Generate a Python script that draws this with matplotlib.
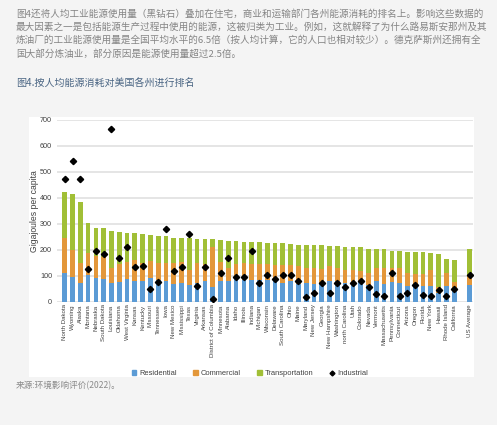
import matplotlib
matplotlib.use("Agg")
import matplotlib.pyplot as plt
from matplotlib.patches import Rectangle
from matplotlib.lines import Line2D
import numpy as np

# data (GJ per capita)
states = ["North Dakota", "Wyoming", "Alaska", "Montana", "Nebraska", "South Dakota",
          "Louisiana", "Oklahoma", "West Virginia", "Kansas", "Kentucky", "Missouri",
          "Tennessee", "Iowa", "New Mexico", "Mississippi", "Texas", "Virginia",
          "Arkansas", "District of Columbia", "Minnesota", "Alabama", "Idaho", "Illinois",
          "Indiana", "Michigan", "Wisconsin", "Delaware", "South Carolina", "Ohio",
          "Maine", "Maryland", "New Jersey", "Georgia", "New Hampshire", "Washington",
          "north Carolina", "Utah", "Colorado", "Nevada", "Vermont", "Massachusetts",
          "Pennsylvania", "Connecticut", "Arizona", "Oregon", "Florida", "New York",
          "Hawaii", "Rhode Island", "California", "US Average"]
residential = [109, 96, 71, 104, 92, 86, 71, 77, 87, 81, 80, 90, 83, 81, 70, 71, 63, 73,
               80, 58, 80, 80, 86, 84, 84, 84, 84, 80, 73, 80, 67, 73, 70, 70, 80, 80,
               73, 73, 76, 65, 80, 67, 76, 71, 61, 70, 61, 61, 35, 61, 48, 65]
commercial = [135, 103, 79, 85, 85, 85, 60, 68, 67, 80, 68, 68, 67, 69, 79, 81, 61, 76,
              66, 151, 72, 50, 61, 64, 63, 63, 63, 63, 70, 63, 70, 55, 60, 57, 57, 50,
              51, 49, 42, 46, 48, 61, 52, 57, 50, 38, 44, 63, 22, 50, 29, 36]
transportation = [180, 214, 235, 115, 108, 112, 140, 122, 112, 102, 113, 100, 102, 102,
                  98, 92, 120, 93, 95, 32, 85, 105, 85, 83, 83, 82, 81, 85, 82, 81, 82,
                  91, 89, 92, 78, 83, 85, 87, 91, 93, 75, 75, 69, 68, 80, 83, 86, 63, 127,
                  55, 82, 103]
industrial = [473, 542, 473, 127, 195, 184, 667, 170, 209, 132, 137, 48, 77, 279, 118,
              133, 261, 62, 133, 10, 111, 168, 95, 95, 194, 73, 101, 89, 101, 102, 80, 19,
              32, 73, 32, 72, 57, 71, 78, 58, 30, 23, 111, 23, 32, 65, 25, 23, 44, 23, 48,
              101]

paragraph = [
    "图4还将人均工业能源使用量（黑钻石）叠加在住宅，商业和运输部门各州能源消耗的排名上。影响这些数据的",
    "最大因素之一是包括能源生产过程中使用的能源，这被归类为工业。例如，这就解释了为什么路易斯安那州及其",
    "炼油厂的工业能源使用量是全国平均水平的6.5倍（按人均计算，它的人口也相对较少）。德克萨斯州还拥有全",
    "国大部分炼油业，部分原因是能源使用量超过2.5倍。",
]
title = "图4.按人均能源消耗对美国各州进行排名"
source = "来源:环境影响评价(2022)。"

C_RES = "#5b9bd5"
C_COM = "#e3973a"
C_TRA = "#a1bf36"
cjk = ["Noto Sans CJK SC", "DejaVu Sans"]

W, H = 497, 425
fig = plt.figure(figsize=(W / 100, H / 100), dpi=100, facecolor="#f4f4f4")

# white chart panel, behind the axes
fig.patches.append(Rectangle((29 / W, 1 - 377 / H), 444.5 / W, 260 / H,
                             transform=fig.transFigure, facecolor="white",
                             edgecolor="none", zorder=-10))

for i, line in enumerate(paragraph):
    fig.text(16 / W, 1 - (13.5 + 13.5 * i) / H, line, family=cjk, fontsize=6.9,
             color="#858585", ha="left", va="center")
fig.text(16 / W, 1 - 83.5 / H, title, family=cjk, fontsize=7.2, color="#4b6684",
         ha="left", va="center")
fig.text(16 / W, 1 - 386 / H, source, family=cjk, fontsize=6.2, color="#8a8a8a",
         ha="left", va="center")

ax = fig.add_axes([57 / W, 1 - 301.7 / H, 415.5 / W, 181.7 / H])
ax.set_facecolor("none")
ax.set_zorder(1)

# leave a one-slot gap before the US average
x = np.array(list(range(len(states) - 1)) + [len(states)], dtype=float)
res = np.array(residential)
com = np.array(commercial)
tra = np.array(transportation)

ax.bar(x, res, width=0.6, color=C_RES, zorder=2, label="Residential")
ax.bar(x, com, width=0.6, bottom=res, color=C_COM, zorder=2, label="Commercial")
ax.bar(x, tra, width=0.6, bottom=res + com, color=C_TRA, zorder=2, label="Transportation")
ax.plot(x, industrial, linestyle="none", marker="D", markersize=3.2, color="black",
        zorder=3, label="Industrial")

ax.set_xlim(-0.99, x[-1] + 0.35)
ax.set_ylim(0, 700)
ax.set_yticks(range(0, 701, 100))
ax.yaxis.grid(True, color="#dedede", linewidth=1.1, zorder=0)
ax.set_axisbelow(True)
for s in ax.spines.values():
    s.set_visible(False)
ax.tick_params(length=0)
ax.tick_params(axis="y", labelsize=5.2, labelcolor="#404040", pad=3.5)
ax.set_xticks(x)
ax.set_xticklabels(states, rotation=90, fontsize=4.4, color="#404040",
                   family="Liberation Sans")
ax.tick_params(axis="x", pad=2)
for lab in ax.get_yticklabels():
    lab.set_family("Liberation Sans")
ax.set_ylabel("Gigajoules per capita", fontsize=6.2, color="#404040",
              family="Liberation Sans", labelpad=1)

handles = [
    Rectangle((0, 0), 1, 1, color=C_RES),
    Rectangle((0, 0), 1, 1, color=C_COM),
    Rectangle((0, 0), 1, 1, color=C_TRA),
    Line2D([], [], linestyle="none", marker="D", markersize=2.5, color="black"),
]
leg = fig.legend(handles, ["Residential", "Commercial", "Transportation", "Industrial"],
                 loc="center", bbox_to_anchor=(250 / W, 1 - 373.5 / H), ncol=4,
                 frameon=False, prop={"family": "Liberation Sans", "size": 5.4},
                 handlelength=0.6, handleheight=0.6, handletextpad=0.4,
                 columnspacing=2.2, labelcolor="#404040")

fig.savefig("out.png", dpi=100, facecolor=fig.get_facecolor())
